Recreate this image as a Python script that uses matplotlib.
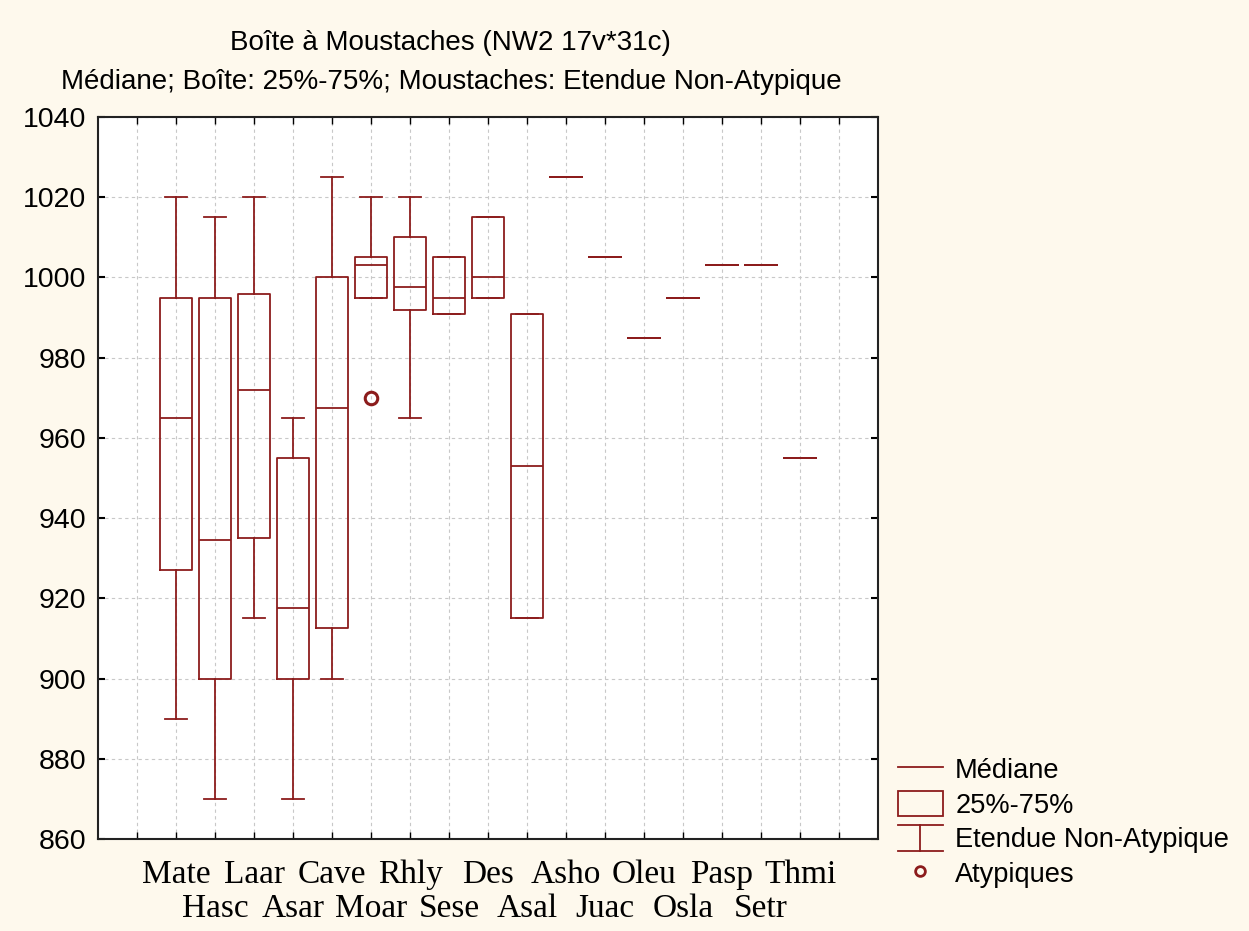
import matplotlib
matplotlib.use("Agg")
import matplotlib.pyplot as plt
import matplotlib.patches as mpatches
from matplotlib.lines import Line2D
from matplotlib.legend_handler import HandlerBase

# --- data ---
categories = ["Mate", "Hasc", "Laar", "Asar", "Cave", "Moar", "Rhly", "Sese", "Des",
              "Asal", "Asho", "Juac", "Oleu", "Osla", "Pasp", "Setr", "Thmi"]
medians = [965, 934.5, 972, 917.5, 967.5, 1003, 997.5, 995, 1000,
           953, 1025, 1005, 985, 995, 1003, 1003, 955]
q1 = [927, 900, 935, 900, 912.5, 995, 992, 991, 995,
      915, 1025, 1005, 985, 995, 1003, 1003, 955]
q3 = [995, 995, 996, 955, 1000, 1005, 1010, 1005, 1015,
      991, 1025, 1005, 985, 995, 1003, 1003, 955]
whisk_lo = [890, 870, 915, 870, 900, 995, 965, 991, 995,
            915, 1025, 1005, 985, 995, 1003, 1003, 955]
whisk_hi = [1020, 1015, 1020, 965, 1025, 1020, 1020, 1005, 1015,
            991, 1025, 1005, 985, 995, 1003, 1003, 955]
outliers = [[], [], [], [], [], [970], [], [], [],
            [], [], [], [], [], [], [], []]

RED = "#8c1c1c"
BG = "#fef9ed"

stats = []
for i, name in enumerate(categories):
    stats.append(dict(label=name, med=medians[i], q1=q1[i], q3=q3[i],
                      whislo=whisk_lo[i], whishi=whisk_hi[i], fliers=outliers[i]))

fig = plt.figure(figsize=(12.49, 9.31), dpi=100, facecolor=BG)
ax = fig.add_axes([0.0785, 0.0988, 0.6245, 0.7755])
ax.set_facecolor("white")

positions = list(range(1, len(categories) + 1))
line_kw = dict(color=RED, linewidth=1.3)
ax.bxp(stats, positions=positions, widths=0.8, capwidths=0.55,
       boxprops=line_kw, whiskerprops=line_kw, capprops=line_kw,
       medianprops=line_kw,
       flierprops=dict(marker="o", markerfacecolor="none", markeredgecolor=RED,
                       markersize=9, markeredgewidth=2.2, linestyle="none"),
       manage_ticks=False, zorder=3)

ax.set_xlim(-1, 19)
ax.set_ylim(860, 1040)
ax.set_yticks(range(860, 1041, 20))

# category names on two rows: odd positions on major ticks, even ones on minor ticks
top_pos = positions[0::2]
low_pos = [0] + positions[1::2] + [18]
ax.set_xticks(top_pos)
ax.set_xticklabels(categories[0::2], fontfamily="Liberation Serif", fontsize=24)
ax.set_xticks(low_pos, minor=True)
ax.set_xticklabels([""] + categories[1::2] + [""], minor=True,
                   fontfamily="Liberation Serif", fontsize=24)

ax.tick_params(axis="x", which="major", direction="in", top=True, bottom=True,
               length=5, pad=14.5, width=1)
ax.tick_params(axis="x", which="minor", direction="in", top=True, bottom=True,
               length=5, pad=39, width=1)
ax.tick_params(axis="y", direction="in", left=True, right=True, length=5,
               labelsize=20.5, width=1.5, pad=8.5)
for lab in ax.get_yticklabels():
    lab.set_fontfamily("Liberation Sans")

ax.grid(True, which="both", color="#c8c8c8", linestyle=(0, (3, 3)),
        linewidth=0.8, zorder=0)
ax.set_axisbelow(True)
for sp in ax.spines.values():
    sp.set_color("#222222")
    sp.set_linewidth(1.5)

fig.text(0.361, 1 - 43 / 931, "Boîte à Moustaches (NW2 17v*31c)",
         ha="center", va="center", fontsize=20, fontfamily="Liberation Sans")
fig.text(0.361, 1 - 82 / 931,
         "Médiane; Boîte: 25%-75%; Moustaches: Etendue Non-Atypique",
         ha="center", va="center", fontsize=20, fontfamily="Liberation Sans")


# legend
class WhiskerKey:
    pass


class WhiskerHandler(HandlerBase):
    def create_artists(self, legend, orig_handle, xdescent, ydescent,
                       width, height, fontsize, trans):
        x0, x1 = -xdescent, -xdescent + width
        y0, y1 = -ydescent, -ydescent + height
        xm = (x0 + x1) / 2
        arts = [Line2D([x0, x1], [y1, y1]), Line2D([xm, xm], [y0, y1]),
                Line2D([x0, x1], [y0, y0])]
        for a in arts:
            a.set_color(RED)
            a.set_linewidth(1.3)
            a.set_transform(trans)
        return arts


handles = [
    Line2D([], [], color=RED, linewidth=1.3),
    mpatches.Rectangle((0, 0), 1, 1, facecolor="none", edgecolor=RED, linewidth=1.3),
    WhiskerKey(),
    Line2D([], [], marker="o", linestyle="none", markerfacecolor="none",
           markeredgecolor=RED, markersize=7, markeredgewidth=2),
]
labels = ["Médiane", "25%-75%", "Etendue Non-Atypique", "Atypiques"]
fig.legend(handles, labels, handler_map={WhiskerKey: WhiskerHandler()},
           loc="upper left", bbox_to_anchor=(0.719, 0.188), frameon=False,
           prop={"family": "Liberation Sans", "size": 19.6},
           handlelength=1.65, handleheight=1.05, handletextpad=0.45,
           labelspacing=0.25, borderpad=0, borderaxespad=0)

fig.savefig("out.png", dpi=100, facecolor=BG)
